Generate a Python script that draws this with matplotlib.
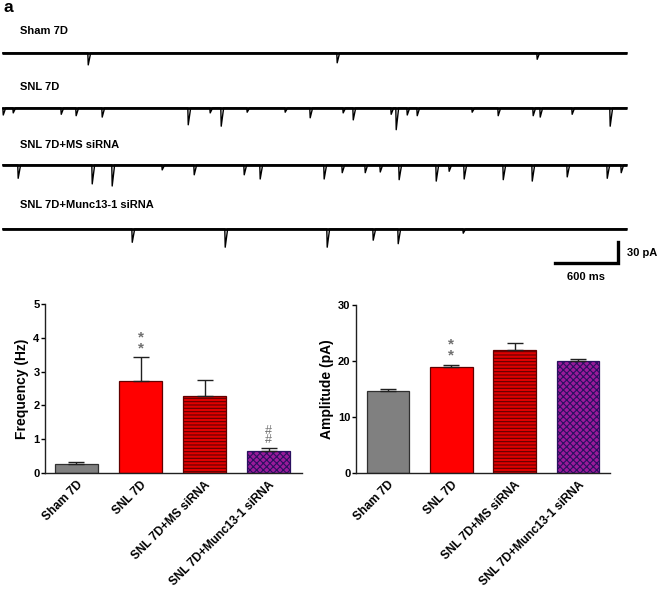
import matplotlib.pyplot as plt
import numpy as np

plt.rcParams['font.family'] = ['Liberation Sans', 'DejaVu Sans']
plt.rcParams['font.weight'] = 'bold'
plt.rcParams['hatch.linewidth'] = 0.8

# ---------- datos ----------
grupos = ["Sham 7D", "SNL 7D", "SNL 7D+MS siRNA", "SNL 7D+Munc13-1 siRNA"]
frecuencia = [0.28, 2.71, 2.28, 0.65]
frecuencia_err = [0.06, 0.72, 0.48, 0.09]
amplitud = [14.7, 18.9, 21.9, 20.0]
amplitud_err = [0.35, 0.35, 1.4, 0.4]

# eventos (ms) y amplitudes (pA) de cada registro
sham_t = [819, 3189, 5093]
sham_a = [17, 14, 9]
snl_t = [10, 105, 562, 704, 952, 1771, 1980, 2085, 2332, 2694, 2932, 3246, 3342,
         3703, 3751, 3856, 3951, 4474, 4722, 5055, 5122, 5426, 5788]
snl_a = [10, 7, 9, 11, 13, 24, 7, 26, 6, 6, 14, 7, 17, 9, 31, 10, 11, 6, 11, 11, 13, 9, 26]
ms_t = [152, 857, 1047, 1523, 1828, 2304, 2456, 3065, 3237, 3456, 3599, 3779, 4132,
        4255, 4398, 4770, 5046, 5379, 5760, 5893]
ms_a = [19, 27, 30, 7, 14, 14, 20, 20, 11, 11, 10, 21, 23, 9, 20, 21, 23, 17, 19, 11]
munc_t = [1238, 2123, 3094, 3532, 3770, 4389]
munc_a = [19, 26, 26, 16, 21, 6]

duracion = 5950  # ms
W, H = 659, 592
fig = plt.figure(figsize=(W / 100, H / 100), dpi=100)

# ----------- registros -----------
ms_px = 9.52
pa_px = 1.4286
top_px, bot_px = 20, 290
ax_tr = fig.add_axes([2 / W, 1 - bot_px / H, (W - 2) / W, (bot_px - top_px) / H])
ax_tr.set_xlim(0, (W - 2) * ms_px)
ax_tr.set_ylim(-(bot_px - top_px) * pa_px, 0)
ax_tr.axis('off')


def trazo(ax, tiempos, amps, base_px):
    y0 = -(base_px - top_px) * pa_px
    ax.plot([0, duracion], [y0, y0], color='black', lw=2.0, solid_capstyle='butt')
    xs, ys = [0], [y0]
    for t, a in zip(tiempos, amps):
        xs += [t - 2, t + 2, t + 25]
        ys += [y0, y0 - a, y0]
    xs.append(duracion)
    ys.append(y0)
    ax.plot(xs, ys, color='black', lw=1.0)


trazos = [(sham_t, sham_a, 53, "Sham 7D", 31),
          (snl_t, snl_a, 108, "SNL 7D", 87),
          (ms_t, ms_a, 165, "SNL 7D+MS siRNA", 145),
          (munc_t, munc_a, 229, "SNL 7D+Munc13-1 siRNA", 205)]
for t, a, base, nombre, ly in trazos:
    trazo(ax_tr, t, a, base)
    fig.text(20 / W, 1 - ly / H, nombre, fontsize=8, fontweight='bold', va='center')

# barra de escala
x1 = (618 - 2) * ms_px
yb = -(263 - top_px) * pa_px
ax_tr.plot([x1 - 600, x1, x1], [yb, yb, yb + 30], color='black', lw=2.4,
           solid_joinstyle='miter', clip_on=False)
fig.text(627 / W, 1 - 253 / H, "30 pA", fontsize=8, fontweight='bold', va='center')
fig.text(586 / W, 1 - 277 / H, "600 ms", fontsize=8, fontweight='bold', va='center', ha='center')
fig.text(4 / W, 1 - 8 / H, "a", fontsize=12.5, fontweight='bold', va='center')

# ----------- graficos de barras -----------
colores = ['#808080', '#ff0000', '#e00000', '#9a1a9a']
bordes = ['#303030', '#600000', '#600000', '#2a1060']
tramas = [None, None, '-----', 'xxxxx']


def barras(ax, vals, errs, ymax, paso, ylabel):
    x = np.arange(len(vals))
    for i in x:
        ax.bar(i, vals[i], width=0.67, color=colores[i], edgecolor=bordes[i],
               hatch=tramas[i], linewidth=0.9, zorder=2)
        ax.errorbar(i, vals[i], yerr=[[0], [errs[i]]], fmt='none', ecolor='#202020',
                    elinewidth=1.0, capsize=6, capthick=1.0, zorder=3)
    ax.set_ylim(0, ymax)
    ax.set_yticks(np.arange(0, ymax + 0.01, paso))
    ax.set_xticks(x)
    ax.set_xticklabels(grupos, rotation=45, ha='right', rotation_mode='anchor', fontsize=8.6)
    ax.set_ylabel(ylabel, fontsize=10, fontweight='bold', labelpad=3)
    ax.spines['top'].set_visible(False)
    ax.spines['right'].set_visible(False)
    for s in ['left', 'bottom']:
        ax.spines[s].set_linewidth(1.0)
        ax.spines[s].set_color('#202020')
    ax.tick_params(axis='y', labelsize=8, length=3, width=1.0, pad=1)
    ax.tick_params(axis='x', length=0, pad=4)


ax1 = fig.add_axes([45 / W, 1 - 473 / H, 257 / W, 169 / H])
barras(ax1, frecuencia, frecuencia_err, 5, 1, "Frequency (Hz)")
ax1.set_xlim(-0.492, 3.523)
ax1.text(1, frecuencia[1] + frecuencia_err[1] + 0.42, "*\n*", ha='center', va='center',
         fontsize=11, color='#707070', linespacing=0.7)
ax1.text(3, frecuencia[3] + frecuencia_err[3] + 0.38, "#\n#", ha='center', va='center',
         fontsize=9, color='#707070', linespacing=0.65, fontweight='normal')

ax2 = fig.add_axes([356 / W, 1 - 473 / H, 254 / W, 168 / H])
barras(ax2, amplitud, amplitud_err, 30, 10, "Amplitude (pA)")
ax2.set_xlim(-0.505, 3.505)
ax2.text(1, amplitud[1] + amplitud_err[1] + 2.7, "*\n*", ha='center', va='center',
         fontsize=11, color='#707070', linespacing=0.7)

fig.savefig("out.png", dpi=100)
